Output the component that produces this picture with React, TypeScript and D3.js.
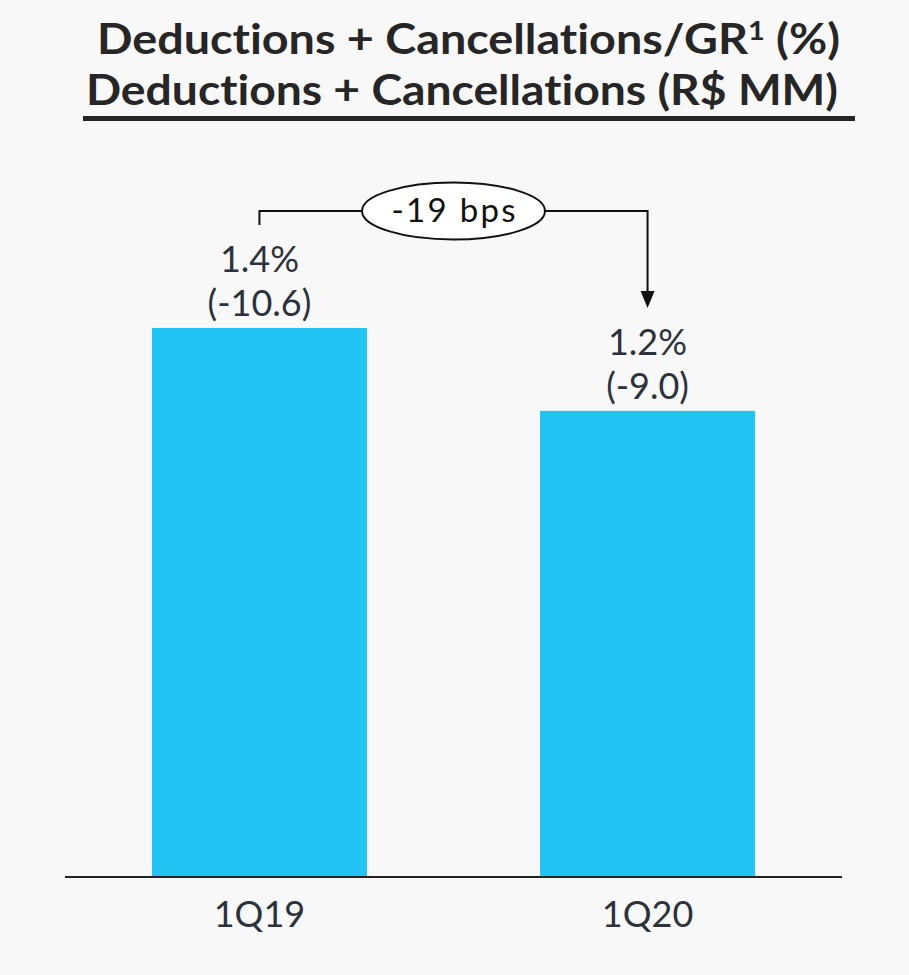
import React from 'react';
import * as d3 from 'd3';

const categories = ['1Q19', '1Q20'];
const pctLabels = ['1.4%', '1.2%'];
const mmValues = [-10.6, -9.0];
const mmLabels = ['(-10.6)', '(-9.0)'];
const deltaLabel = '-19 bps';
const titleLine1 = 'Deductions + Cancellations/GR';
const titleSup = '1';
const titleLine1End = ' (%)';
const titleLine2 = 'Deductions + Cancellations (R$ MM)';

const W = 909;
const H = 975;
const FONT = 'Lato, "Open Sans", sans-serif';
const TEXT = '#2b323c';
const BAR = '#22c4f3';
const noLig = { fontVariantLigatures: 'none' as const };

export default function App() {
  const x = d3.scaleBand<string>().domain(categories).range([65, 842]).paddingInner(0.446).paddingOuter(0.224);
  const y = d3.scaleLinear().domain([0, 10.6]).range([877, 328]);
  const bw = x.bandwidth();
  const cx = categories.map((c) => (x(c) as number) + bw / 2);
  const tops = mmValues.map((v) => y(Math.abs(v)));
  const bracketY = 211;
  const midX = (cx[0] + cx[1]) / 2;
  const rx = 91.5;
  const ry = 28.5;
  const arrowTip = 308;

  return (
    <svg width={W} height={H} style={{ display: 'block', background: '#f8f8f8' }}>
      <style>{'body{margin:0;background:#f8f8f8}'}</style>
      <rect x={0} y={0} width={W} height={H} fill="#f8f8f8" />
      <text
        x={97}
        y={54}
        textLength={743}
        lengthAdjust="spacingAndGlyphs"
        fontFamily={FONT}
        fontWeight={700}
        fontSize={42}
        fill="#262626"
        style={noLig}
      >
        {titleLine1}
        <tspan fontSize={26} dy={-14}>{titleSup}</tspan>
        <tspan dy={14}>{titleLine1End}</tspan>
      </text>
      <text
        x={86}
        y={105}
        textLength={752}
        lengthAdjust="spacingAndGlyphs"
        fontFamily={FONT}
        fontWeight={700}
        fontSize={42}
        fill="#262626"
        style={noLig}
      >
        {titleLine2}
      </text>
      <line x1={83} x2={855} y1={118.5} y2={118.5} stroke="#262626" strokeWidth={5} />

      {categories.map((c, i) => (
        <g key={c}>
          <rect x={x(c)} y={tops[i]} width={bw} height={y(0) - tops[i]} fill={BAR} />
          <text x={cx[i]} y={tops[i] - 56} textAnchor="middle" fontFamily={FONT} fontSize={36} fill={TEXT}>
            {pctLabels[i]}
          </text>
          <text x={cx[i]} y={tops[i] - 12} textAnchor="middle" fontFamily={FONT} fontSize={36} fill={TEXT}>
            {mmLabels[i]}
          </text>
          <text x={cx[i]} y={927} textAnchor="middle" fontFamily={FONT} fontSize={36} fill={TEXT}>
            {c}
          </text>
        </g>
      ))}
      <line x1={65} x2={842} y1={y(0)} y2={y(0)} stroke="#222" strokeWidth={2} />

      <path
        d={`M${cx[0]},${bracketY + 14} V${bracketY} H${midX - rx}`}
        fill="none"
        stroke="#111"
        strokeWidth={2}
      />
      <path
        d={`M${midX + rx},${bracketY} H${cx[1]} V${arrowTip - 16}`}
        fill="none"
        stroke="#111"
        strokeWidth={2}
      />
      <path d={`M${cx[1] - 7},${arrowTip - 17} L${cx[1] + 7},${arrowTip - 17} L${cx[1]},${arrowTip} Z`} fill="#111" />
      <ellipse cx={midX} cy={bracketY} rx={rx} ry={ry} fill="#fff" stroke="#111" strokeWidth={2} />
      <text
        x={midX - 62}
        y={222}
        textLength={124}
        lengthAdjust="spacing"
        fontFamily={FONT}
        fontSize={33}
        fill="#111"
      >
        {deltaLabel}
      </text>
    </svg>
  );
}
